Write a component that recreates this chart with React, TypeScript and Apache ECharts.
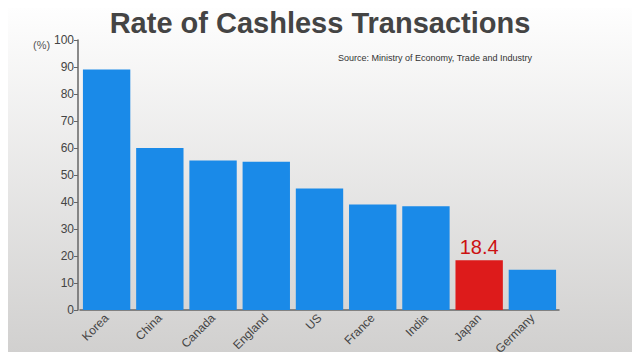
import React, { useEffect, useRef } from "react";
import * as echarts from "echarts";

const categories = ["Korea", "China", "Canada", "England", "US", "France", "India", "Japan", "Germany"];
const values = [89.1, 60.0, 55.4, 54.9, 45.0, 39.1, 38.4, 18.4, 14.9];
const highlight = "Japan";
const titleText = "Rate of Cashless Transactions";
const sourceText = "Source: Ministry of Economy, Trade and Industry";
const unitText = "(%)";

export default function App() {
  const ref = useRef<HTMLDivElement>(null);
  useEffect(() => {
    const chart = echarts.init(ref.current!, null, { renderer: "svg" });
    const font = "'Liberation Sans', Arial, sans-serif";
    chart.setOption({
      animation: false,
      backgroundColor: new echarts.graphic.LinearGradient(0, 0, 0, 1, [
        { offset: 0, color: "#ffffff" },
        { offset: 1, color: "#d0cfce" },
      ]),
      title: {
        text: titleText,
        left: "center",
        top: 3,
        textStyle: { fontFamily: font, fontSize: 29, fontWeight: "bold", color: "#444444" },
      },
      graphic: [
        { type: "text", left: 33, top: 39, style: { text: unitText, fontFamily: font, fontSize: 11, fill: "#555555" } },
        { type: "text", left: 338, top: 53, style: { text: sourceText, fontFamily: font, fontSize: 9, fill: "#333333" } },
      ],
      grid: { left: 80, right: 81, top: 40, bottom: 50 },
      xAxis: {
        type: "category",
        data: categories,
        axisLine: { lineStyle: { color: "#666666", width: 1.5 } },
        axisTick: { alignWithLabel: true, length: 4, lineStyle: { color: "#666666" } },
        axisLabel: { rotate: 45, fontFamily: font, fontSize: 12, color: "#444444", margin: 6 },
      },
      yAxis: {
        type: "value",
        min: 0,
        max: 100,
        interval: 10,
        offset: 2,
        splitLine: { show: false },
        axisLine: { show: true, lineStyle: { color: "#666666", width: 1.5 } },
        axisTick: { show: true, length: 4, lineStyle: { color: "#666666" } },
        axisLabel: { fontFamily: font, fontSize: 12, color: "#444444", margin: 4 },
      },
      series: [
        {
          type: "bar",
          barCategoryGap: "11%",
          data: values.map((v, i) => ({
            value: v,
            itemStyle: { color: categories[i] === highlight ? "#dd1b1b" : "#1a8ae8" },
            label: categories[i] === highlight
              ? { show: true, position: "top", distance: 3, fontFamily: font, fontSize: 20, color: "#cc1111" }
              : { show: false },
          })),
        },
      ],
    });
    return () => chart.dispose();
  }, []);
  return <div ref={ref} style={{ width: 640, height: 360, margin: -8 }} />;
}
